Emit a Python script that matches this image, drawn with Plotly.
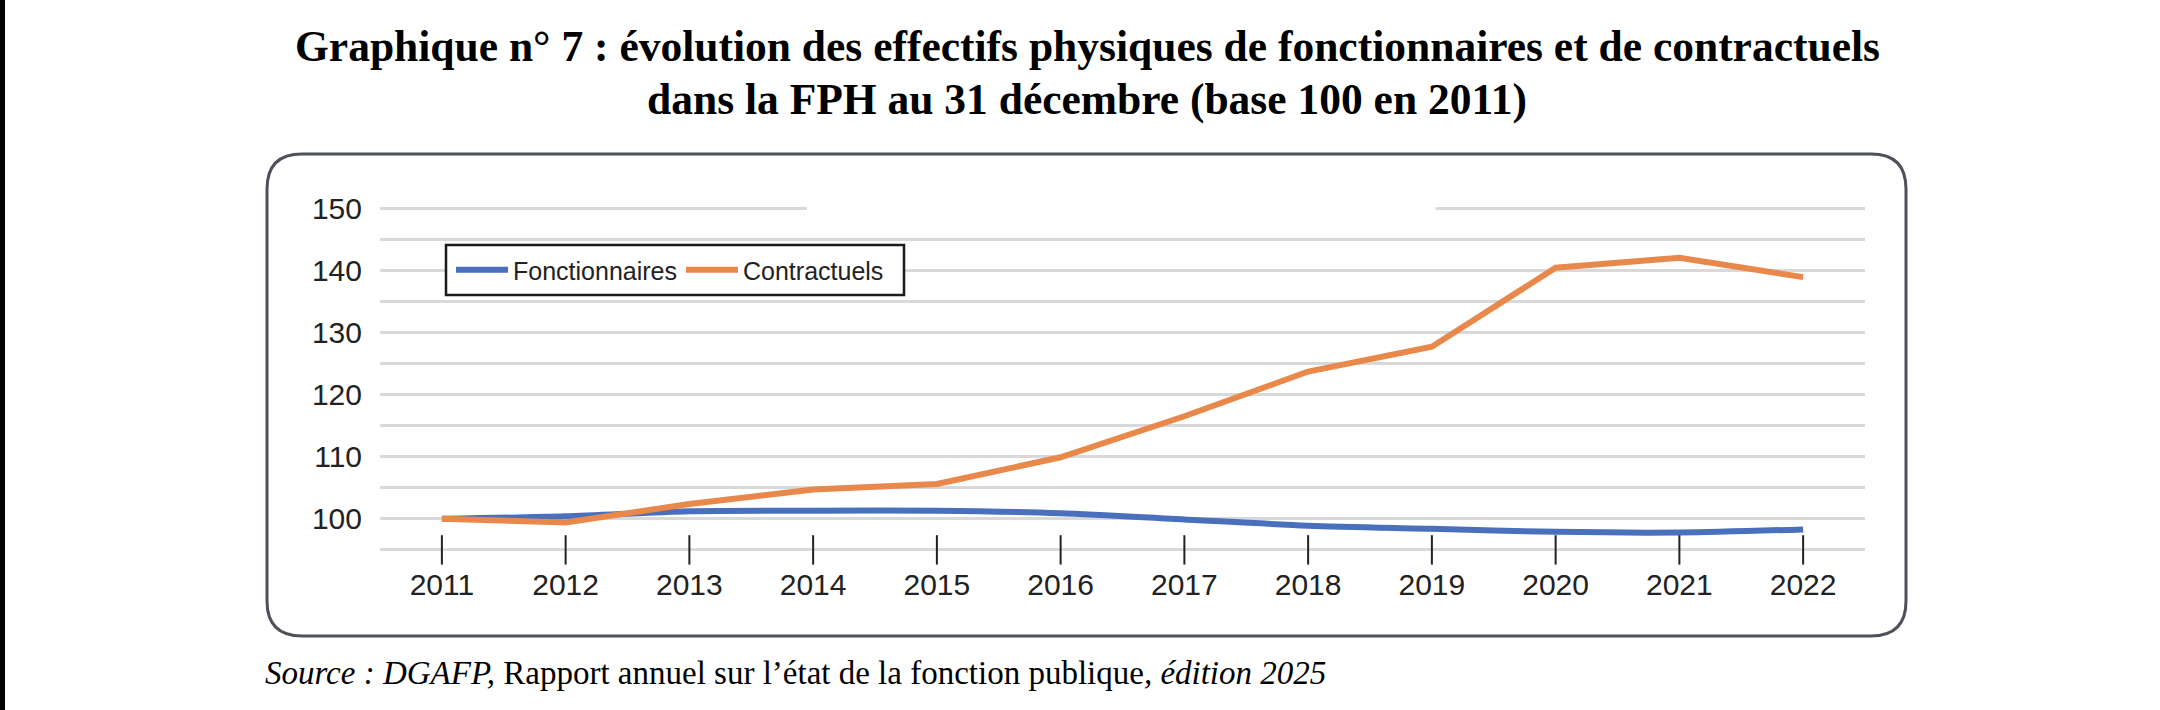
import plotly.graph_objects as go

years = [2011, 2012, 2013, 2014, 2015, 2016, 2017, 2018, 2019, 2020, 2021, 2022]
fonctionnaires = [100.0, 100.4, 101.2, 101.3, 101.3, 100.9, 99.9, 98.9, 98.4, 97.9, 97.8, 98.3]
contractuels = [100.0, 99.4, 102.4, 104.7, 105.6, 109.9, 116.5, 123.7, 127.7, 140.4, 142.0, 138.9]
y_ticks = [95, 100, 105, 110, 115, 120, 125, 130, 135, 140, 145, 150]
y_labels = ["", "100", "", "110", "", "120", "", "130", "", "140", "", "150"]

title_lines = ["Graphique n° 7 : évolution des effectifs physiques de fonctionnaires et de contractuels",
               "dans la FPH au 31 décembre (base 100 en 2011)"]
source = ("<i>Source : DGAFP,</i> Rapport annuel sur l’état de la fonction publique"
          "<i>, édition 2025</i>")

W, H = 2160, 710
# plot area in pixels
L, R, T, B = 380, 1865, 205, 553

def px_x(p):
    return (p - L) / (R - L)

def px_y(p):
    return (B - p) / (B - T)

# rounded frame around the chart
x0, x1, y0, y1, r = 267, 1906, 154, 636, 35
pts = [
    ("M", [(x0 + r, y0)]), ("L", [(x1 - r, y0)]), ("Q", [(x1, y0), (x1, y0 + r)]),
    ("L", [(x1, y1 - r)]), ("Q", [(x1, y1), (x1 - r, y1)]),
    ("L", [(x0 + r, y1)]), ("Q", [(x0, y1), (x0, y1 - r)]),
    ("L", [(x0, y0 + r)]), ("Q", [(x0, y0), (x0 + r, y0)]),
]
path = " ".join(c + " " + " ".join(f"{px_x(a):.5f},{px_y(b):.5f}" for a, b in p) for c, p in pts) + " Z"

fig = go.Figure()
fig.add_trace(go.Scatter(
    x=years, y=fonctionnaires, name="Fonctionnaires", mode="lines",
    line=dict(color="#4a70bd", width=6, shape="spline", smoothing=0.8),
))
fig.add_trace(go.Scatter(
    x=years, y=contractuels, name="Contractuels", mode="lines",
    line=dict(color="#e8894b", width=6),
))
# tick marks crossing the bottom gridline
fig.add_trace(go.Scatter(
    x=years, y=[y_ticks[0]] * len(years), mode="markers", showlegend=False,
    marker=dict(symbol="line-ns", size=21, line=dict(color="#222222", width=2)),
    cliponaxis=False, hoverinfo="skip",
))

serif = "Liberation Serif, Times New Roman"
fig.update_layout(
    width=W, height=H,
    margin=dict(l=L, r=W - R, t=T, b=H - B),
    paper_bgcolor="white", plot_bgcolor="white",
    font=dict(family="Liberation Sans, Arial", color="#222222"),
    legend=dict(orientation="h", x=px_x(451), y=px_y(270), xanchor="left", yanchor="middle",
                borderwidth=0, bgcolor="rgba(0,0,0,0)", entrywidth=163,
                font=dict(size=25, color="#222222"),
                itemwidth=52, traceorder="normal"),
    xaxis=dict(range=[2010.5, 2022.5], tickvals=years, showgrid=False, zeroline=False,
               showline=False, ticks="", tickfont=dict(size=30), ticklabelstandoff=11),
    yaxis=dict(range=[94.5, 150.5], tickvals=y_ticks, ticktext=y_labels, showgrid=True,
               gridcolor="#d9d9d9", gridwidth=3, zeroline=False, showline=False, ticks="",
               tickfont=dict(size=30), ticklabelstandoff=17),
    shapes=[
        dict(type="path", path=path, xref="paper", yref="paper",
             line=dict(color="#4d5159", width=3), layer="below"),
        # break in the top gridline
        dict(type="rect", xref="x", yref="y", x0=2013.95, x1=2019.03, y0=149.4, y1=150.6,
             fillcolor="white", line=dict(width=0), layer="above"),
        # legend frame
        dict(type="rect", xref="paper", yref="paper", x0=px_x(446), x1=px_x(904),
             y0=px_y(295), y1=px_y(245), fillcolor="white",
             line=dict(color="#1a1a1a", width=2.5), layer="above"),
        # dark strip on the left edge
        dict(type="rect", xref="paper", yref="paper", x0=px_x(0), x1=px_x(5),
             y0=px_y(H), y1=px_y(0), fillcolor="black", line=dict(width=0)),
    ],
    annotations=[
        dict(text="<b>" + title_lines[0] + "</b>", xref="paper", yref="paper",
             x=px_x(1087), y=px_y(46), xanchor="center", yanchor="middle", showarrow=False,
             font=dict(family=serif, size=43.5, color="black")),
        dict(text="<b>" + title_lines[1] + "</b>", xref="paper", yref="paper",
             x=px_x(1087), y=px_y(99), xanchor="center", yanchor="middle", showarrow=False,
             font=dict(family=serif, size=43.5, color="black")),
        dict(text=source, xref="paper", yref="paper", x=px_x(263), y=px_y(673),
             xanchor="left", yanchor="middle", showarrow=False,
             font=dict(family=serif, size=33, color="black")),
    ],
)

fig.write_html("out.html", config={"displayModeBar": False},
               post_script="document.body.style.margin = '0';")
